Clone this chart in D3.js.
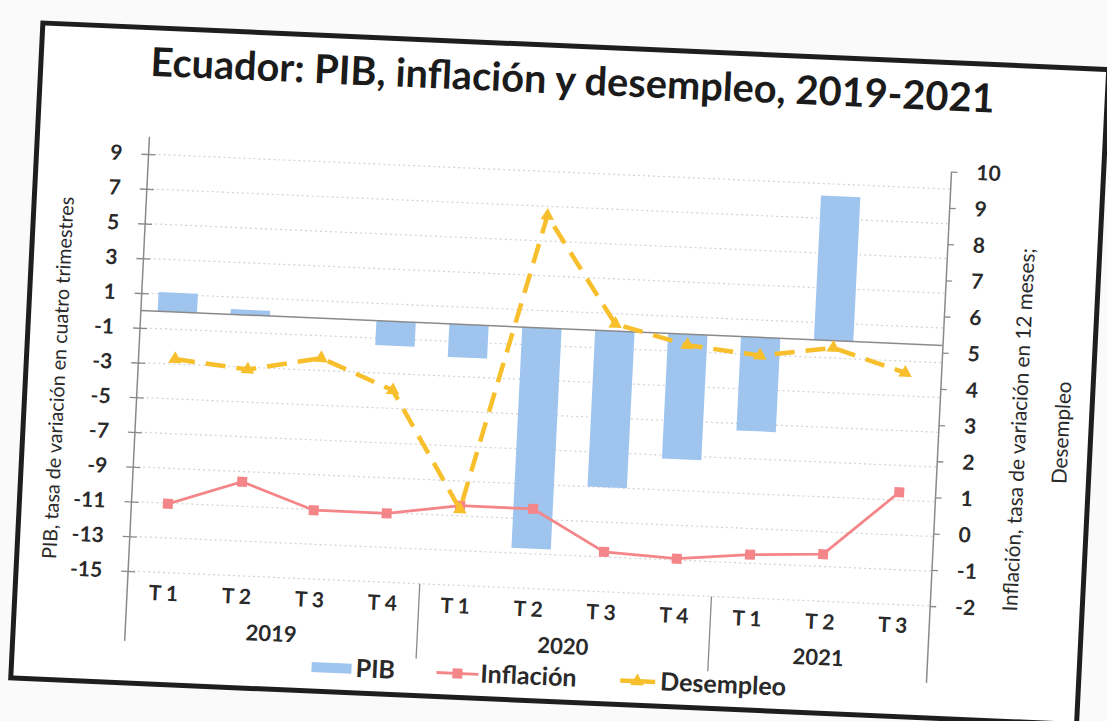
<!DOCTYPE html>
<html><head><meta charset="utf-8">
<script src="https://cdn.jsdelivr.net/npm/d3@7"></script>
<style>html,body{margin:0;padding:0;background:#fff;} svg{display:block}</style>
</head><body>
<svg id="chart" width="1107" height="721"></svg>
<script>
const categories = ["T 1","T 2","T 3","T 4","T 1","T 2","T 3","T 4","T 1","T 2","T 3"];
const years = ["2019","2020","2021"];
const yearSpans = [4,4,3];
const pib = [1.1, 0.3, 0.0, -1.4, -1.9, -12.7, -9.0, -7.2, -5.4, 8.3, null];
const inflacion = [-0.1, 0.6, -0.1, -0.1, 0.2, 0.2, -0.9, -1.0, -0.8, -0.7, 1.1];
const desempleo = [3.9, 3.7, 4.1, 3.3, 0.1, 8.3, 5.4, 4.9, 4.7, 5.0, 4.4];
const leftTicks = [9,7,5,3,1,-1,-3,-5,-7,-9,-11,-13,-15];
const rightTicks = [10,9,8,7,6,5,4,3,2,1,0,-1,-2];
const titleText = "Ecuador: PIB, inflación y desempleo, 2019-2021";
const leftTitle = "PIB, tasa de variación en cuatro trimestres";
const rightTitle = ["Inflación, tasa de variación en 12 meses;", "Desempleo"];
const legendLabels = ["PIB","Inflación","Desempleo"];

const C_PIB = "#9fc5ef", C_INF = "#f4868a", C_DES = "#f8bf2c";
const FONT = "Lato, 'Open Sans', sans-serif";

const svg = d3.select("#chart");
svg.append("rect").attr("width",1107).attr("height",721).attr("fill","#fafafa");
const g = svg.append("g").attr("transform","matrix(0.99888,0.04359,-0.04897,0.99839,16.91,-19.16)");
const L=140,R=943,T=150,B=585;

// card
g.append("rect").attr("x",28).attr("y",41).attr("width",1067).attr("height",656)
 .attr("fill","#fff").attr("stroke","#1e1e1e").attr("stroke-width",5);

function fit(sel, target){
  const w = sel.node().getComputedTextLength();
  const fs = parseFloat(sel.attr("font-size"));
  sel.attr("font-size", fs*target/w);
  return fs*target/w;
}

const x = d3.scaleBand().domain(d3.range(categories.length)).range([L,R]).padding(0);
const yL = d3.scaleLinear().domain([-15,10]).range([B,T]);
const yR = d3.scaleLinear().domain([-2,10]).range([B,T]);
const cx = i => x(i)+x.bandwidth()/2;

// gridlines
g.append("g").selectAll("line").data(leftTicks).join("line")
 .attr("x1",L).attr("x2",R).attr("y1",d=>yL(d)).attr("y2",d=>yL(d))
 .attr("stroke","#d2d2d2").attr("stroke-width",1.2).attr("stroke-dasharray","2,3");

// bars
const bw = x.bandwidth()*0.54;
g.append("g").selectAll("rect").data(pib.map((v,i)=>({v,i})).filter(d=>d.v!==null)).join("rect")
 .attr("x",d=>x(d.i)+(x.bandwidth()-bw)/2).attr("width",bw)
 .attr("y",d=>yL(Math.max(0,d.v))).attr("height",d=>Math.abs(yL(d.v)-yL(0)))
 .attr("fill",C_PIB);

// zero line
g.append("line").attr("x1",L).attr("x2",R).attr("y1",yL(0)).attr("y2",yL(0))
 .attr("stroke","#8a8a8a").attr("stroke-width",1.5);

// left axis
const axL = g.append("g").attr("transform",`translate(${L},0)`)
 .call(d3.axisLeft(yL).tickValues(leftTicks).tickSizeInner(7).tickSizeOuter(0).tickPadding(19).tickFormat(d=>String(d)));
axL.select(".domain").remove();
axL.selectAll(".tick line").attr("x1",-7).attr("x2",7).attr("stroke","#8a8a8a").attr("stroke-width",1.3);
axL.selectAll("text").attr("font-family",FONT).attr("font-weight","bold").attr("font-size",21).attr("fill","#2a2a2a");
g.append("line").attr("x1",L).attr("x2",L).attr("y1",T).attr("y2",655).attr("stroke","#8a8a8a").attr("stroke-width",1.5);

// right axis
const axR = g.append("g").attr("transform",`translate(${R},0)`)
 .call(d3.axisRight(yR).tickValues(rightTicks).tickSizeInner(6).tickSizeOuter(0).tickPadding(19).tickFormat(d=>String(d)));
axR.select(".domain").remove();
axR.selectAll(".tick line").attr("stroke","#8a8a8a").attr("stroke-width",1.3);
axR.selectAll("text").attr("font-family",FONT).attr("font-weight","bold").attr("font-size",21).attr("fill","#2a2a2a");
g.append("line").attr("x1",R).attr("x2",R).attr("y1",T).attr("y2",662).attr("stroke","#8a8a8a").attr("stroke-width",1.5);

// year dividers
let acc=0; const bounds=[];
yearSpans.forEach((s,k)=>{ bounds.push({start:acc,end:acc+s-1,label:years[k]}); acc+=s; });
g.append("g").selectAll("line").data(bounds.slice(1)).join("line")
 .attr("x1",d=>x(d.start)).attr("x2",d=>x(d.start)).attr("y1",B).attr("y2",660)
 .attr("stroke","#8a8a8a").attr("stroke-width",1.3);

// category labels
g.append("g").selectAll("text").data(categories).join("text")
 .attr("x",(d,i)=>cx(i)).attr("y",613).attr("text-anchor","middle")
 .attr("font-family",FONT).attr("font-weight","bold").attr("font-size",21).attr("fill","#2a2a2a")
 .text(d=>d);
g.append("g").selectAll("text").data(bounds).join("text")
 .attr("x",d=>(x(d.start)+x(d.end)+x.bandwidth())/2).attr("y",649).attr("text-anchor","middle")
 .attr("font-family",FONT).attr("font-weight","bold").attr("font-size",22).attr("fill","#2a2a2a")
 .text(d=>d.label);

// lines
const line = d3.line().x((d,i)=>cx(i)).y(d=>yR(d));
g.append("path").datum(inflacion).attr("d",line).attr("fill","none")
 .attr("stroke",C_INF).attr("stroke-width",2.8);
g.append("g").selectAll("rect").data(inflacion).join("rect")
 .attr("x",(d,i)=>cx(i)-5).attr("y",d=>yR(d)-5).attr("width",10).attr("height",10).attr("fill",C_INF);

g.append("path").datum(desempleo).attr("d",line).attr("fill","none")
 .attr("stroke",C_DES).attr("stroke-width",4.5).attr("stroke-dasharray","20,11");
const tri = d3.symbol().type(d3.symbolTriangle).size(80);
g.append("g").selectAll("path").data(desempleo).join("path")
 .attr("transform",(d,i)=>`translate(${cx(i)},${yR(d)})`).attr("d",tri).attr("fill",C_DES);

// title
const t = g.append("text").attr("x",560).attr("y",89).attr("text-anchor","middle")
 .attr("font-family",FONT).attr("font-weight","bold").attr("font-size",34).attr("fill","#1b1b1b")
 .text(titleText);
fit(t,845);

// axis titles
const lt = g.append("text").attr("transform","translate(59.5,395) rotate(-90)")
 .attr("text-anchor","middle").attr("dominant-baseline","central")
 .attr("font-family",FONT).attr("font-size",18).attr("fill","#2a2a2a").text(leftTitle);
fit(lt,363);
const rt1 = g.append("text").attr("transform","translate(1022,405) rotate(-90)")
 .attr("text-anchor","middle").attr("dominant-baseline","central")
 .attr("font-family",FONT).attr("font-size",18).attr("fill","#2a2a2a").text(rightTitle[0]);
const rfs = fit(rt1,364);
g.append("text").attr("transform","translate(1065,406) rotate(-90)")
 .attr("text-anchor","middle").attr("dominant-baseline","central")
 .attr("font-family",FONT).attr("font-size",rfs).attr("fill","#2a2a2a").text(rightTitle[1]);

// legend
const ly = 673;
const lg = g.append("g");
lg.append("rect").attr("x",328).attr("y",ly-5).attr("width",40).attr("height",10).attr("fill",C_PIB);
lg.append("line").attr("x1",453).attr("x2",495).attr("y1",ly).attr("y2",ly).attr("stroke",C_INF).attr("stroke-width",2.8);
lg.append("rect").attr("x",469).attr("y",ly-5).attr("width",10).attr("height",10).attr("fill",C_INF);
lg.append("line").attr("x1",637).attr("x2",672).attr("y1",ly).attr("y2",ly).attr("stroke",C_DES).attr("stroke-width",4.5);
lg.append("path").attr("transform",`translate(654,${ly})`).attr("d",tri).attr("fill",C_DES);
const lpos = [372,497,677];
const ltexts = lg.selectAll("text.leg").data(legendLabels).join("text").attr("class","leg")
 .attr("x",(d,i)=>lpos[i]).attr("y",ly+8)
 .attr("font-family",FONT).attr("font-weight","bold").attr("font-size",22).attr("fill","#2a2a2a")
 .text(d=>d);
const lfs = fit(d3.select(ltexts.nodes()[2]),126);
ltexts.attr("font-size",lfs);
</script>
</body></html>
